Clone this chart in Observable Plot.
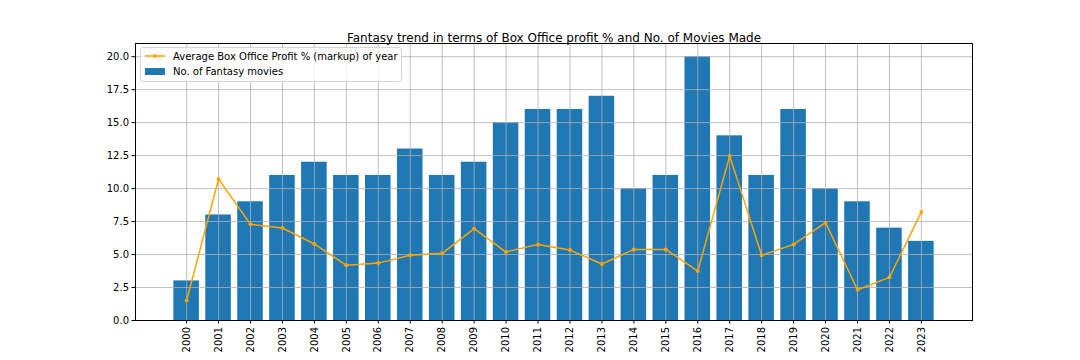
<!DOCTYPE html>
<html>
<head>
<meta charset="utf-8">
<script src="https://cdn.jsdelivr.net/npm/d3@7"></script>
<script src="https://cdn.jsdelivr.net/npm/@observablehq/plot@0.6"></script>
<style>
  body { margin: 0; background: #fff; font-family: "DejaVu Sans", sans-serif; }
  #wrap { position: relative; width: 1080px; height: 360px; }
  #legend {
    position: absolute; left: 140px; top: 47px; width: 262px; height: 35px;
    background: rgba(255,255,255,0.8); border: 1px solid #d6d6d6; border-radius: 3px;
    font-size: 10px; color: #000; box-sizing: border-box;
  }
  .row { position: absolute; left: 3px; display: flex; align-items: center; white-space: nowrap; }
  .row span { margin-left: 7px; }
</style>
</head>
<body>
<div id="wrap">
  <div id="chart"></div>
  <div id="legend">
    <div class="row" style="top:2px;">
      <svg width="22" height="12"><line x1="1" y1="6" x2="21" y2="6" stroke="orange" stroke-width="1.5"/><circle cx="11" cy="6" r="2" fill="orange"/></svg>
      <span>Average Box Office Profit % (markup) of year</span>
    </div>
    <div class="row" style="top:17px;">
      <svg width="22" height="12"><rect x="1" y="3" width="20" height="7" fill="#1f77b4"/></svg>
      <span>No. of Fantasy movies</span>
    </div>
  </div>
</div>
<script>
const years = [2000,2001,2002,2003,2004,2005,2006,2007,2008,2009,2010,2011,2012,2013,2014,2015,2016,2017,2018,2019,2020,2021,2022,2023];
const movieCounts = [3,8,9,11,12,11,11,13,11,12,15,16,16,17,10,11,20,14,11,16,10,9,7,6];
const profitPct = [1.52,10.73,7.29,7.01,5.80,4.18,4.35,4.94,5.09,6.96,5.19,5.77,5.34,4.28,5.39,5.39,3.75,12.48,4.94,5.77,7.42,2.33,3.27,8.23];
const yTicks = [0,2.5,5,7.5,10,12.5,15,17.5,20];
const title = "Fantasy trend in terms of Box Office profit % and No. of Movies Made";

const data = years.map((y,i) => ({year: y, count: movieCounts[i], profit: profitPct[i]}));

const chart = Plot.plot({
  width: 1080,
  height: 360,
  marginLeft: 135,
  marginRight: 108,
  marginTop: 43,
  marginBottom: 40,
  style: {fontFamily: "DejaVu Sans", fontSize: "10px", background: "#fff", color: "#000"},
  x: {type: "linear", domain: [1998.4, 2024.6]},
  y: {domain: [0, 21]},
  marks: [
    Plot.rectY(data, {x1: d => d.year - 0.4, x2: d => d.year + 0.4, y1: 0, y2: "count", fill: "#1f77b4"}),
    Plot.gridX(years, {stroke: "#b0b0b0", strokeOpacity: 1, strokeWidth: 0.8}),
    Plot.gridY(yTicks, {stroke: "#b0b0b0", strokeOpacity: 1, strokeWidth: 0.8}),
    Plot.line(data, {x: "year", y: "profit", stroke: "orange", strokeWidth: 1.5}),
    Plot.dot(data, {x: "year", y: "profit", r: 2, fill: "orange"}),
    Plot.frame({stroke: "#000", strokeWidth: 1}),
    Plot.axisX({ticks: years, tickFormat: d => String(d), tickRotate: -90, tickSize: 3.5, tickPadding: 3, label: null}),
    Plot.axisY({ticks: yTicks, tickFormat: d3.format(".1f"), tickSize: 3.5, tickPadding: 3, label: null}),
    Plot.text([title], {frameAnchor: "top", dy: -10, fontSize: 12, text: d => d})
  ]
});
document.getElementById("chart").appendChild(chart);
</script>
</body>
</html>
